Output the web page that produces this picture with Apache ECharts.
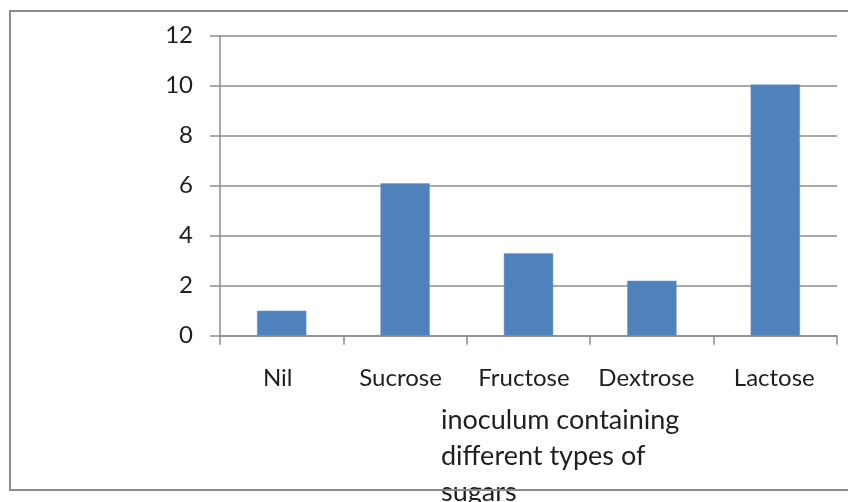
<!DOCTYPE html>
<html>
<head>
<meta charset="utf-8">
<script src="https://cdn.jsdelivr.net/npm/echarts@6/dist/echarts.min.js"></script>
<style>
  html, body { margin: 0; padding: 0; background: #fff; }
  #wrap { position: relative; width: 848px; height: 502px; overflow: hidden; }
  #chart { position: absolute; left: 0; top: 0; width: 848px; height: 502px; }
  #frame { position: absolute; left: 9px; top: 10px; width: 860px; height: 477px;
           border: 2px solid #8c8c8c; pointer-events: none; }
</style>
</head>
<body>
<div id="wrap">
  <div id="chart"></div>
  <div id="frame"></div>
</div>
<script>
// ---- data ----
const categories = ['Nil', 'Sucrose', 'Fructose', 'Dextrose', 'Lactose'];
const values = [1.0, 6.1, 3.3, 2.2, 10.05];
const yTicks = [0, 2, 4, 6, 8, 10, 12];
const axisTitle = 'inoculum containing\ndifferent types of\nsugars';

// ---- label nudges (style only: right padding moves label slightly left) ----
const labelPadRight = [8, 9, 9, 11, 2];

const FONT = 'Lato, "Open Sans", sans-serif';
const TXT = '#1f1f1f';
const LINE = '#8c8c8c';

const rich = {};
categories.forEach((c, i) => {
  rich['c' + i] = { fontFamily: FONT, fontSize: 24, color: TXT, padding: [0, labelPadRight[i], 0, 0] };
});

const chart = echarts.init(document.getElementById('chart'), null, { renderer: 'canvas' });
chart.setOption({
  animation: false,
  backgroundColor: '#ffffff',
  title: {
    text: axisTitle,
    left: 441,
    top: 402,
    textStyle: { fontFamily: FONT, fontSize: 27, fontWeight: 'normal', color: TXT, lineHeight: 36 },
    padding: 0
  },
  grid: { left: 220, right: 11, top: 35.7, bottom: 166.3, containLabel: false },
  xAxis: {
    type: 'category',
    data: categories,
    boundaryGap: true,
    axisLine: { show: true, lineStyle: { color: LINE, width: 1.5 } },
    axisTick: { show: true, length: 9, lineStyle: { color: LINE, width: 1.5 } },
    axisLabel: {
      margin: 31,
      interval: 0,
      formatter: (v) => '{c' + categories.indexOf(v) + '|' + v + '}',
      rich: rich
    }
  },
  yAxis: {
    type: 'value',
    min: yTicks[0],
    max: yTicks[yTicks.length - 1],
    interval: yTicks[1] - yTicks[0],
    axisLine: { show: true, lineStyle: { color: LINE, width: 1.5 } },
    axisTick: { show: true, length: 10, lineStyle: { color: LINE, width: 1.5 } },
    splitLine: { show: true, lineStyle: { color: LINE, width: 1.5 } },
    axisLabel: { margin: 27, fontFamily: FONT, fontSize: 24, color: TXT }
  },
  series: [{
    type: 'bar',
    data: values,
    barWidth: '40%',
    itemStyle: { color: '#4f81bd', borderColor: '#6f96c9', borderWidth: 0.5 }
  }]
});
</script>
</body>
</html>
